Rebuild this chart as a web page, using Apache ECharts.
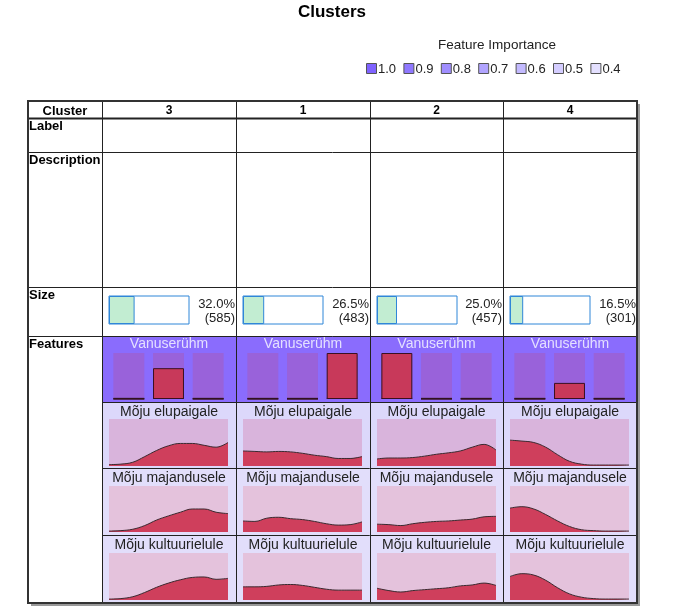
<!DOCTYPE html>
<html><head><meta charset="utf-8">
<script src="https://cdn.jsdelivr.net/npm/echarts@6/dist/echarts.min.js"></script>
<style>html,body{margin:0;padding:0;background:#fff}#c{width:692px;height:613px}</style>
</head><body><div id="c"></div>
<script>
const clusters = ['3', '1', '2', '4'];
const sizePct = [32.0, 26.5, 25.0, 16.5];
const sizeN = [585, 483, 457, 301];
const ageName = 'Vanuserühm';
const ageCats = ['1', '2', '3'];
const ageVals = [[0, 0.67, 0], [0, 0, 1], [1, 0, 0], [0, 0.35, 0]];
const ageBase = [0.025, 0.025, 0.025];
const featureNames = ['Mõju elupaigale', 'Mõju majandusele', 'Mõju kultuurielule'];
const elupaigale = [
  [0.03, 0.04, 0.08, 0.20, 0.33, 0.43, 0.48, 0.48, 0.44, 0.40, 0.50],
  [0.32, 0.31, 0.30, 0.31, 0.30, 0.27, 0.23, 0.20, 0.16, 0.16, 0.20],
  [0.15, 0.17, 0.17, 0.18, 0.21, 0.25, 0.28, 0.32, 0.40, 0.46, 0.34],
  [0.55, 0.53, 0.50, 0.40, 0.24, 0.10, 0.04, 0.02, 0.02, 0.02, 0.02]
];
const majandusele = [
  [0.02, 0.03, 0.06, 0.14, 0.26, 0.35, 0.43, 0.50, 0.50, 0.43, 0.40],
  [0.24, 0.23, 0.30, 0.32, 0.29, 0.27, 0.23, 0.18, 0.15, 0.16, 0.22],
  [0.17, 0.16, 0.14, 0.18, 0.21, 0.23, 0.24, 0.26, 0.28, 0.33, 0.34],
  [0.52, 0.55, 0.50, 0.38, 0.24, 0.12, 0.05, 0.03, 0.02, 0.02, 0.02]
];
const kultuurielule = [
  [0.02, 0.03, 0.07, 0.16, 0.27, 0.36, 0.43, 0.48, 0.49, 0.44, 0.46],
  [0.28, 0.28, 0.29, 0.32, 0.33, 0.31, 0.27, 0.23, 0.21, 0.21, 0.21],
  [0.25, 0.20, 0.17, 0.20, 0.22, 0.24, 0.26, 0.30, 0.32, 0.36, 0.31],
  [0.50, 0.56, 0.53, 0.42, 0.26, 0.13, 0.06, 0.03, 0.02, 0.02, 0.02]
];
const importanceLabels = ['1.0', '0.9', '0.8', '0.7', '0.6', '0.5', '0.4'];
const rowLabels = ['Label', 'Description', 'Size', 'Features'];

// ---- layout / style ----
const FONT = "'Liberation Sans', Arial, sans-serif";
const importanceColors = ['#7f63ff', '#8f78ff', '#a08eff', '#b1a4ff', '#c3baff', '#d4cdff', '#e4e0ff'];
const colX = [102, 236, 370, 503, 637];
const tableL = 28, tableT = 101, tableR = 637, tableB = 603;
const hLines = [118, 152, 287, 336];
const rowTextY = [126, 160, 295, 344];
const featRowTop = [402, 468, 535];
const featRowBot = [468, 535, 602];
const featTitleY = [412, 478, 545];
const plotTop = [419, 486, 553];
const plotH = [47, 46, 47];
const plotBg = ['#d9b4dc', '#e4c2dc', '#e4c2dc'];
const cellBg = ['#dcd8fb', '#e2defb', '#e2defb'];
const curves = [elupaigale, majandusele, kultuurielule];

const grids = [], xAxes = [], yAxes = [], series = [], graphic = [];
function addGrid(g, xa, ya) {
  const idx = grids.length;
  grids.push(Object.assign({ containLabel: false }, g));
  xAxes.push(Object.assign({ gridIndex: idx }, xa));
  yAxes.push(Object.assign({ gridIndex: idx }, ya));
  return idx;
}

// background cells
for (let i = 0; i < 4; i++) {
  const x0 = colX[i], w = colX[i + 1] - colX[i];
  graphic.push({ type: 'rect', z: 0, shape: { x: x0, y: 336, width: w, height: 66 }, style: { fill: '#8a6cfd' } });
  for (let r = 0; r < 3; r++) {
    graphic.push({ type: 'rect', z: 0, shape: { x: x0, y: featRowTop[r], width: w, height: featRowBot[r] - featRowTop[r] }, style: { fill: cellBg[r] } });
    graphic.push({ type: 'rect', z: 1, shape: { x: x0 + 7, y: plotTop[r], width: 119, height: plotH[r] }, style: { fill: plotBg[r] } });
  }
}

// size grids
for (let i = 0; i < 4; i++) {
  const gi = addGrid({ left: colX[i] + 7, top: 296, width: 80, height: 28 },
    { type: 'value', min: 0, max: 100, show: false },
    { type: 'category', data: ['s'], show: false });
  series.push({
    type: 'bar', xAxisIndex: gi, yAxisIndex: gi, data: [sizePct[i]], barWidth: 28,
    showBackground: true, backgroundStyle: { color: '#fff', borderColor: '#2f86d8', borderWidth: 1 },
    itemStyle: { color: '#c2edd2', borderColor: '#2f86d8', borderWidth: 1 }, silent: true, animation: false
  });
  const rx = colX[i + 1] - 1;
  graphic.push({ type: 'text', z: 5, style: { text: sizePct[i].toFixed(1) + '%', x: rx, y: 304, textAlign: 'right', textVerticalAlign: 'middle', font: '13px ' + FONT, fill: '#222' } });
  graphic.push({ type: 'text', z: 5, style: { text: '(' + sizeN[i] + ')', x: rx, y: 318, textAlign: 'right', textVerticalAlign: 'middle', font: '13px ' + FONT, fill: '#222' } });
}

// age grids
for (let i = 0; i < 4; i++) {
  const gi = addGrid({ left: colX[i] + 7, top: 353, width: 119, height: 46 },
    { type: 'category', data: ageCats, show: false },
    { type: 'value', min: 0, max: 1, show: false });
  series.push({
    type: 'bar', xAxisIndex: gi, yAxisIndex: gi, data: ageBase, barWidth: '78%', barGap: '-100%',
    showBackground: true, backgroundStyle: { color: '#9962da' },
    itemStyle: { color: '#1a1a1a' }, silent: true, animation: false
  });
  series.push({
    type: 'bar', xAxisIndex: gi, yAxisIndex: gi, data: ageVals[i], barWidth: '78%', barGap: '-100%',
    itemStyle: { color: '#c8395a', borderColor: '#3a1020', borderWidth: 1 }, silent: true, animation: false
  });
  graphic.push({ type: 'text', z: 5, style: { text: ageName, x: (colX[i] + colX[i + 1]) / 2, y: 344, textAlign: 'center', textVerticalAlign: 'middle', font: '14px ' + FONT, fill: '#e4e0ff' } });
}

// curve grids
for (let r = 0; r < 3; r++) {
  for (let i = 0; i < 4; i++) {
    const gi = addGrid({ left: colX[i] + 7, top: plotTop[r], width: 119, height: plotH[r] },
      { type: 'value', min: 0, max: 10, show: false },
      { type: 'value', min: 0, max: 1, show: false });
    series.push({
      type: 'line', xAxisIndex: gi, yAxisIndex: gi, smooth: 0.4, showSymbol: false, symbol: 'none',
      data: curves[r][i].map((v, k) => [k, v]),
      lineStyle: { color: '#3a2a30', width: 1 }, areaStyle: { color: '#cf3f5c', opacity: 1 },
      silent: true, animation: false
    });
    graphic.push({ type: 'text', z: 5, style: { text: featureNames[r], x: (colX[i] + colX[i + 1]) / 2, y: featTitleY[r], textAlign: 'center', textVerticalAlign: 'middle', font: '14px ' + FONT, fill: '#222' } });
  }
}

// table lines
const lineStyle = { stroke: '#222', lineWidth: 1 };
hLines.forEach(y => graphic.push({ type: 'line', z: 10, shape: { x1: tableL, y1: y + 0.5, x2: tableR, y2: y + 0.5 }, style: lineStyle }));
featRowTop.forEach(y => graphic.push({ type: 'line', z: 10, shape: { x1: colX[0], y1: y + 0.5, x2: tableR, y2: y + 0.5 }, style: lineStyle }));
colX.slice(0, 4).forEach(x => graphic.push({ type: 'line', z: 10, shape: { x1: x + 0.5, y1: tableT, x2: x + 0.5, y2: tableB }, style: lineStyle }));
graphic.push({ type: 'line', z: 10, shape: { x1: tableL, y1: 118.5, x2: tableR, y2: 118.5 }, style: { stroke: '#222', lineWidth: 2 } });
// outer frame + shadow
graphic.push({ type: 'line', z: 9, shape: { x1: tableL + 3, y1: tableB + 2, x2: tableR + 3, y2: tableB + 2 }, style: { stroke: '#999', lineWidth: 2 } });
graphic.push({ type: 'line', z: 9, shape: { x1: tableR + 2, y1: tableT + 3, x2: tableR + 2, y2: tableB + 3 }, style: { stroke: '#999', lineWidth: 2 } });
graphic.push({ type: 'rect', z: 11, shape: { x: tableL, y: tableT, width: tableR - tableL, height: tableB - tableT }, style: { fill: 'none', stroke: '#333', lineWidth: 2 } });

// header texts
graphic.push({ type: 'text', z: 12, style: { text: 'Cluster', x: (tableL + colX[0]) / 2, y: 111, textAlign: 'center', textVerticalAlign: 'middle', font: 'bold 13px ' + FONT, fill: '#000' } });
clusters.forEach((c, i) => graphic.push({ type: 'text', z: 12, style: { text: c, x: (colX[i] + colX[i + 1]) / 2, y: 111, textAlign: 'center', textVerticalAlign: 'middle', font: 'bold 12px ' + FONT, fill: '#000' } }));
rowLabels.forEach((t, k) => graphic.push({ type: 'text', z: 12, style: { text: t, x: tableL + 1, y: rowTextY[k], textAlign: 'left', textVerticalAlign: 'middle', font: 'bold 13px ' + FONT, fill: '#000' } }));

// title and legend
graphic.push({ type: 'text', z: 12, style: { text: 'Clusters', x: 332, y: 12, textAlign: 'center', textVerticalAlign: 'middle', font: 'bold 17px ' + FONT, fill: '#000' } });
graphic.push({ type: 'text', z: 12, style: { text: 'Feature Importance', x: 497, y: 45, textAlign: 'center', textVerticalAlign: 'middle', font: '13.5px ' + FONT, fill: '#222' } });
importanceLabels.forEach((t, k) => {
  const x = 366 + k * 37.4;
  graphic.push({ type: 'rect', z: 12, shape: { x: x + 0.5, y: 63.5, width: 10, height: 10 }, style: { fill: importanceColors[k], stroke: '#555', lineWidth: 1 } });
  graphic.push({ type: 'text', z: 12, style: { text: t, x: x + 12, y: 69, textAlign: 'left', textVerticalAlign: 'middle', font: '13px ' + FONT, fill: '#222' } });
});

const chart = echarts.init(document.getElementById('c'), null, { renderer: 'canvas' });
chart.setOption({
  animation: false,
  grid: grids, xAxis: xAxes, yAxis: yAxes, series: series,
  graphic: { elements: graphic }
});
</script></body></html>
